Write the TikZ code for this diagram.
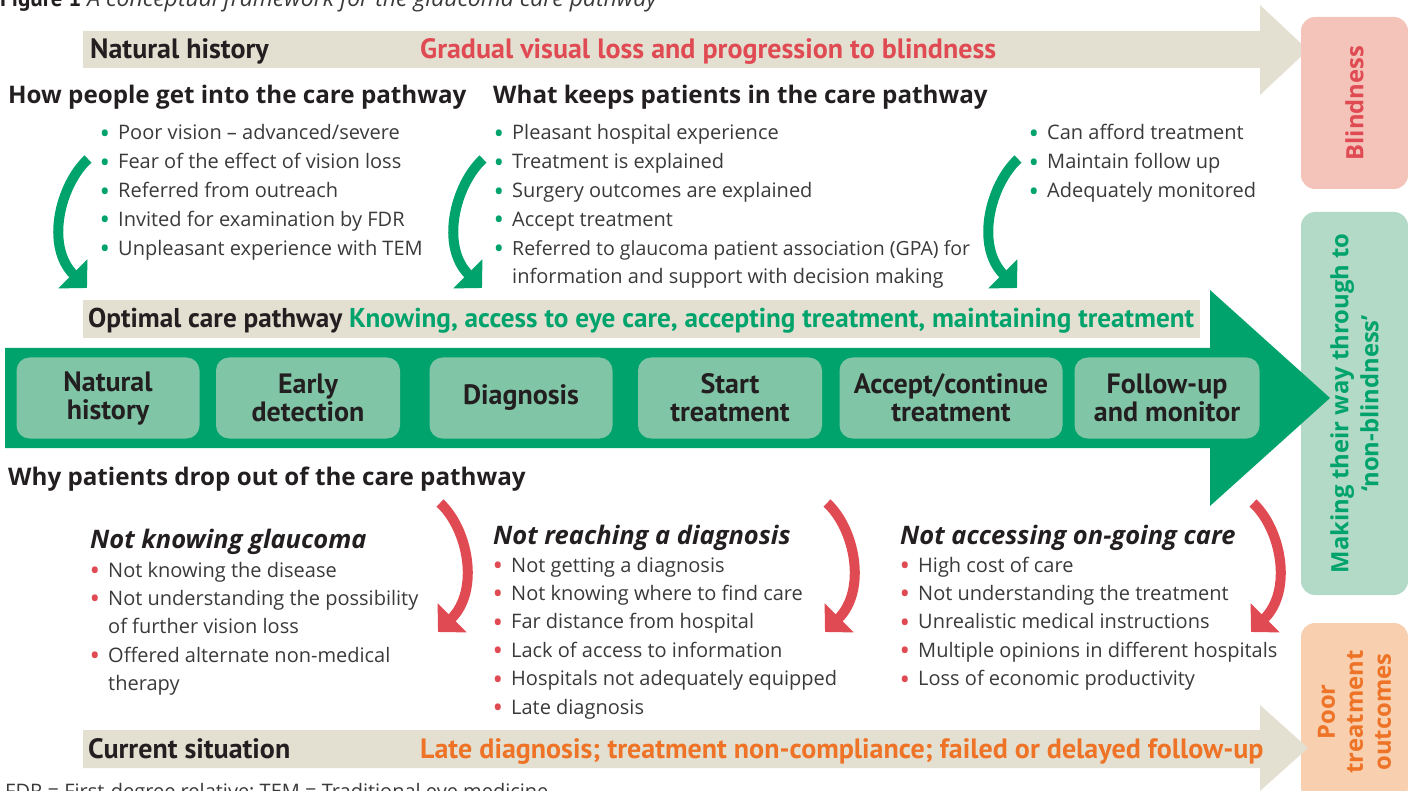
\documentclass[tikz,border=0pt]{standalone}
\usepackage{fontspec}
\setmainfont{Open Sans}
\newfontfamily\narrowfont{PT Sans}
\usetikzlibrary{arrows.meta,shapes}

\definecolor{beige}{HTML}{E3E0D2}
\definecolor{pathgreen}{HTML}{00A36C}
\definecolor{stagegreen}{HTML}{80C5A6}
\definecolor{dropred}{HTML}{E04A52}
\definecolor{lateorange}{HTML}{EE7326}
\definecolor{blindpink}{HTML}{F4C4BB}
\definecolor{mint}{HTML}{B3D9C7}
\definecolor{peach}{HTML}{F8CFAF}
\definecolor{ink}{HTML}{231F20}
\definecolor{bodytext}{HTML}{3A3A3A}

\newcommand{\gb}{\llap{\raisebox{-3.5pt}{\textcolor{pathgreen}{\fontsize{28}{28}\selectfont\textbullet}}\hspace{8pt}}}
\newcommand{\rb}{\llap{\raisebox{-3.5pt}{\textcolor{dropred}{\fontsize{28}{28}\selectfont\textbullet}}\hspace{8pt}}}

\tikzstyle{txt}=[inner sep=0pt, anchor=base west, text=ink]
\tikzstyle{band}=[txt, font=\narrowfont\bfseries\fontsize{28}{30}\selectfont]
\tikzstyle{heading}=[txt, font=\bfseries\fontsize{24.2}{28}\selectfont]
\tikzstyle{cause}=[txt, font=\bfseries\itshape\fontsize{25.5}{28}\selectfont]
\tikzstyle{item}=[txt, text=bodytext, font=\fontsize{20}{24}\selectfont]
\tikzstyle{stage}=[rounded corners=13pt, fill=stagegreen, minimum height=81pt,
    align=center, text=ink, inner sep=0pt, font=\narrowfont\bfseries\fontsize{28}{28}\selectfont]
\tikzstyle{outcome}=[rounded corners=14pt, rotate=90, minimum height=107pt,
    align=center, inner sep=0pt, font=\bfseries\fontsize{23.8}{28}\selectfont]
\tikzstyle{garrow}=[line width=10pt, draw=pathgreen, -{Triangle[length=20pt,width=40pt]}]
\tikzstyle{rarrow}=[line width=10pt, draw=dropred, -{Triangle[length=20pt,width=40pt]}]

\begin{document}
\begin{tikzpicture}[x=1pt, y=-1pt]
\useasboundingbox (0,0) rectangle (1408,791);
\clip (0,0) rectangle (1408,791);

\node[txt, font=\fontsize{23}{26}\selectfont] (cap) at (0,7)
    {{\narrowfont\bfseries Figure 1} \textcolor{bodytext}{\itshape A conceptual framework for the glaucoma care pathway}};

\fill[beige] (83,31) -- (1260,31) -- (1260,5) -- (1308,50) -- (1260,95) -- (1260,68) -- (83,68) -- cycle;
\node[band] (nat) at (90,59) {Natural history};
\node[band, text=dropred] (grad) at (420,59) {Gradual visual loss and progression to blindness};

\node[outcome, fill=blindpink, minimum width=172pt, text=dropred] (blind) at (1354.5,103) {Blindness};
\node[outcome, fill=mint, minimum width=383pt, text=pathgreen, font=\bfseries\fontsize{23.8}{30}\selectfont]
    (nonblind) at (1354.5,403.5) {Making their way through to\\‘non-blindness’};
\node[outcome, fill=peach, minimum width=178pt, text=lateorange] (poor) at (1354.5,712)
    {Poor\\treatment\\outcomes};

\node[heading] (how) at (8,104) {How people get into the care pathway};
\node[heading] (keep) at (493,104) {What keeps patients in the care pathway};

\foreach \t [count=\i from 0] in {{\gb Poor vision – advanced/severe},
    {\gb Fear of the effect of vision loss}, {\gb Referred from outreach},
    {\gb Invited for examination by FDR}, {\gb Unpleasant experience with TEM}}
  \node[item] (pa\i) at (118,140+28.8*\i) {\t};
\foreach \t [count=\i from 0] in {{\gb Pleasant hospital experience},
    {\gb Treatment is explained}, {\gb Surgery outcomes are explained},
    {\gb Accept treatment}, {\gb\fontsize{19.5}{24}\selectfont Referred to glaucoma patient association (GPA) for},
    {information and support with decision making}}
  \node[item] (pb\i) at (512,140+28.8*\i) {\t};
\foreach \t [count=\i from 0] in {{\gb Can afford treatment},
    {\gb Maintain follow up}, {\gb Adequately monitored}}
  \node[item] (pc\i) at (1047,140+28.8*\i) {\t};

\fill[beige] (83,300) rectangle (1200,338);
\node[band, font=\narrowfont\bfseries\fontsize{27.2}{30}\selectfont] (opt) at (88,328) {Optimal care pathway
    \textcolor{pathgreen}{Knowing, access to eye care, accepting treatment, maintaining treatment}};

\fill[pathgreen] (5,348) -- (1210,348) -- (1210,290) -- (1330,398) -- (1210,506) -- (1210,448) -- (5,448) -- cycle;
\foreach \cx/\w/\nm/\txt in {108/183/s1/{Natural\\history}, 308/184/s2/{Early\\detection},
    521/183/s3/Diagnosis, 730/184/s4/{Start\\treatment},
    951/223/s5/{Accept/continue\\treatment}, 1167/185/s6/{Follow-up\\and monitor}}
  \node[stage, minimum width=\w pt] (\nm) at (\cx,398) {\txt};

\node[heading] (why) at (8,485) {Why patients drop out of the care pathway};

\node[cause] (nk) at (90,548) {Not knowing glaucoma};
\foreach \t [count=\i from 0] in {{\rb Not knowing the disease},
    {\rb Not understanding the possibility}, {of further vision loss},
    {\rb Offered alternate non-medical}, {therapy}}
  \node[item] (da\i) at (108,577+28.4*\i) {\t};
\node[cause] (nr) at (493,544) {Not reaching a diagnosis};
\foreach \t [count=\i from 0] in {{\rb Not getting a diagnosis},
    {\rb Not knowing where to find care}, {\rb Far distance from hospital},
    {\rb Lack of access to information}, {\rb Hospitals not adequately equipped},
    {\rb Late diagnosis}}
  \node[item] (db\i) at (511,572+28.4*\i) {\t};
\node[cause] (na) at (900,544) {Not accessing on-going care};
\foreach \t [count=\i from 0] in {{\rb High cost of care},
    {\rb Not understanding the treatment}, {\rb Unrealistic medical instructions},
    {\rb Multiple opinions in different hospitals}, {\rb Loss of economic productivity}}
  \node[item] (dc\i) at (918,572+28.4*\i) {\t};

\fill[beige] (83,730) -- (1260,730) -- (1260,705) -- (1308,748) -- (1260,791) -- (1260,768) -- (83,768) -- cycle;
\node[band] (cur) at (88,758) {Current situation};
\node[band, text=lateorange] (late) at (420,758)
    {Late diagnosis; treatment non-compliance; failed or delayed follow-up};

\node[item] (fn) at (5,798) {FDR = First-degree relative; TEM = Traditional eye medicine};

\foreach \dx/\nm in {0/a, 395/b, 930/c}{
  \coordinate (gs\nm) at (88+\dx,159);
  \coordinate (ge\nm) at (87+\dx,288);
  \draw[garrow] (gs\nm) .. controls +(-28,26) and +(-42,-42) .. (ge\nm);
}
\foreach \dx/\nm in {0/a, 387/b, 813/c}{
  \coordinate (rs\nm) at (440+\dx,503);
  \coordinate (re\nm) at (438+\dx,632);
  \draw[rarrow] (rs\nm) .. controls +(28,26) and +(42,-42) .. (re\nm);
}
\end{tikzpicture}
\end{document}
